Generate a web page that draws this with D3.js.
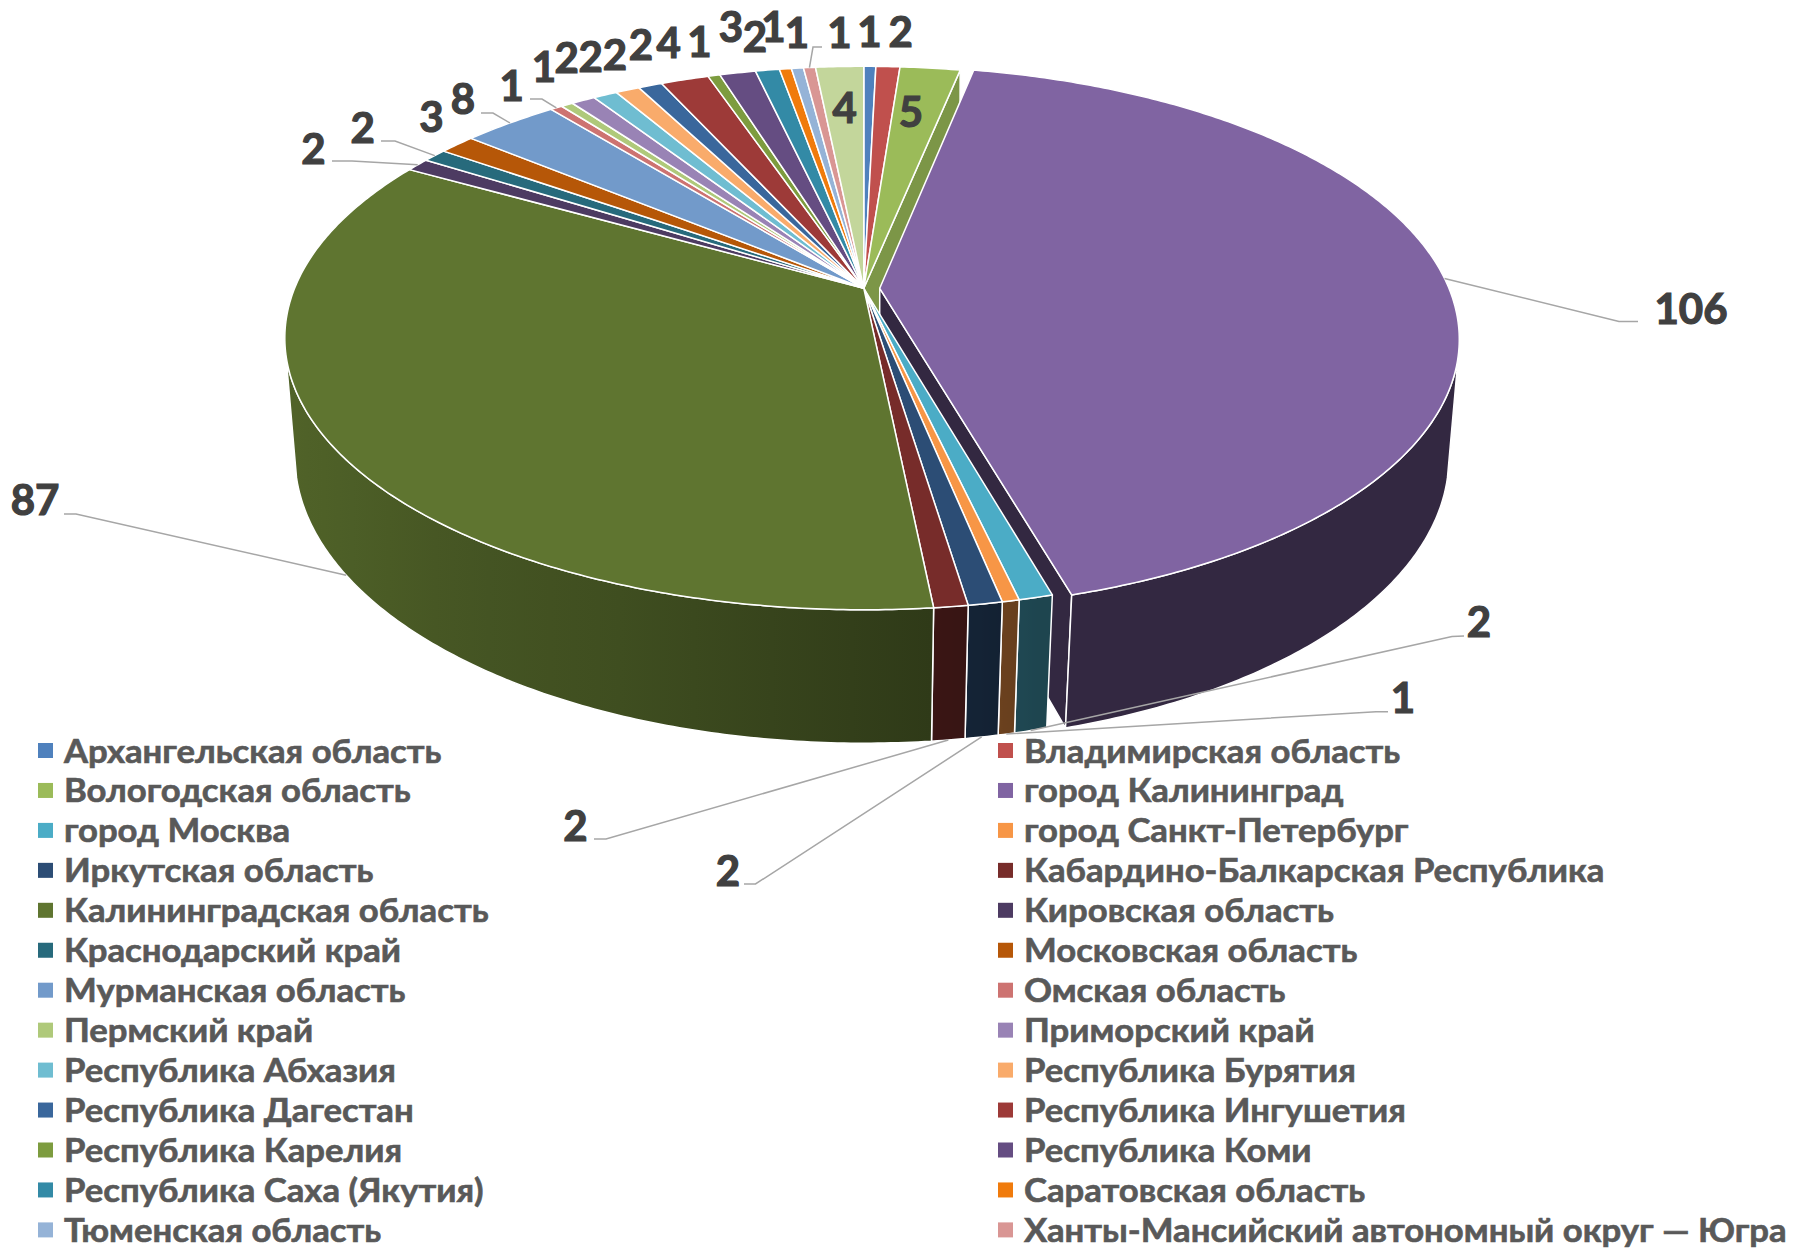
<!DOCTYPE html>
<html lang="ru">

<head>
	<title>Pie chart</title>
	<meta charset="utf-8">
	<script src="https://d3js.org/d3.v7.min.js"></script>
	<style>
		body { margin: 0; background: #fff; }
		text { font-family: Lato, "Open Sans", sans-serif; font-weight: 700; }
	</style>
</head>

<body>
	<div id="container"></div>
	<script>
		// Data, clockwise from 12 o'clock. The last slice has no legend row in the picture
		const categories = [
			"Архангельская область", "Владимирская область", "Вологодская область", "город Калининград",
			"город Москва", "город Санкт-Петербург", "Иркутская область", "Кабардино-Балкарская Республика",
			"Калининградская область", "Кировская область", "Краснодарский край", "Московская область",
			"Мурманская область", "Омская область", "Пермский край", "Приморский край",
			"Республика Абхазия", "Республика Бурятия", "Республика Дагестан", "Республика Ингушетия",
			"Республика Карелия", "Республика Коми", "Республика Саха (Якутия)", "Саратовская область",
			"Тюменская область", "Ханты-Мансийский автономный округ — Югра", ""
		];
		const values = [1, 2, 5, 106, 2, 1, 2, 2, 87, 2, 2, 3, 8, 1, 1, 2, 2, 2, 2, 4, 1, 3, 2, 1, 1, 1, 4];
		const colors = [
			"#4f81bd", "#c0504d", "#9bbb59", "#8064a2", "#4bacc6", "#f79646", "#2c4d75", "#772c2a",
			"#5f7530", "#4d3b62", "#276a7c", "#b65708", "#729aca", "#cd7371", "#afc97a", "#9983b5",
			"#6fbdd1", "#f9ab6b", "#3a679c", "#9d3a38", "#7d9c3f", "#654d82", "#338aa6", "#f07b0c",
			"#95b3d7", "#d99694", "#c3d69b"
		];

		// Hand placed data labels, same order as values
		const labelPos = [
			[869.5, 32], [900.8, 32], [911, 112], [1691, 309], [1479, 622], [1403, 698], [728, 871], [575.5, 826],
			[35, 500], [313.5, 149], [362.7, 128], [431.4, 117], [463, 99], [511.7, 86], [544, 67], [566.6, 58],
			[590.8, 57], [615, 55], [641, 45], [668.6, 43], [699.5, 42], [731, 27], [755, 37], [773.4, 27],
			[797, 33], [839.5, 33], [844.6, 108]
		];

		// Leader lines: slice index, plane the tip sits on, the two elbow points
		const leaders = [
			{ i: 3, plane: "top", pts: [[1619, 321.5], [1638, 321.5]] },
			{ i: 4, plane: "bottom", pts: [[1452, 636.5], [1464, 636]] },
			{ i: 5, plane: "bottom", pts: [[1376, 711.7], [1388, 711.7]] },
			{ i: 6, plane: "bottom", pts: [[755.5, 884], [744, 884]] },
			{ i: 7, plane: "bottom", pts: [[606, 839], [594, 839]] },
			{ i: 8, plane: "bottom", pts: [[76, 514], [64, 514]] },
			{ i: 9, plane: "top", pts: [[352, 161], [332, 161]] },
			{ i: 10, plane: "top", pts: [[395, 141], [381, 141]] },
			{ i: 12, plane: "top", pts: [[493, 113], [481, 113]] },
			{ i: 13, plane: "top", pts: [[542, 99], [530, 99]] },
			{ i: 25, plane: "top", pts: [[813, 47], [822, 47]] }
		];

		const width = 1794;
		const height = 1254;

		// Perspective planes of the 3D pie: top face and floor
		const planes = {
			top: { cx: 863.8, cy: 288.3, a: 262.6, b: 569.2, p: 0.183 },
			bottom: { cx: 863.8, cy: 407.3, a: 278.8, b: 560.6, p: 0.17 }
		};
		const explodedIndex = 3;
		const explode = 0.028;

		const svg = d3.select("#container")
			.append("svg")
			.attr("width", width)
			.attr("height", height)
			.attr("viewBox", `0 0 ${width} ${height}`);

		const defs = svg.append("defs");

		const slices = d3.pie().sort(null).value(d => d)(values);

		function project(theta, r, plane, du) {
			const u = Math.sin(theta) * r + du;
			const v = -Math.cos(theta) * r;
			const w = 1 - plane.p * v;
			return [plane.cx + plane.b * u / w, plane.cy + plane.a * v / w];
		}

		function anglesBetween(a0, a1) {
			const n = Math.max(2, Math.ceil((a1 - a0) / 0.01));
			return d3.range(n + 1).map(k => a0 + (a1 - a0) * k / n);
		}

		const polygon = d3.line().curve(d3.curveLinearClosed);
		const deg = a => a * 180 / Math.PI;
		const rad = a => a * Math.PI / 180;

		// Only this part of the rim faces the viewer
		const rimFrom = 104;
		const rimTo = 256;

		// Wall darkness by angle, brighter to the left like the Excel lighting
		const shade = d3.scaleLinear()
			.domain([165, 175, 200, 240, 265])
			.range([0.4, 0.5, 0.66, 0.82, 0.85])
			.clamp(true);
		const tint = (c, k) => d3.interpolateRgb("#000", c)(k);

		const shiftOf = i => i === explodedIndex ? explode : 0;

		function topPath(s) {
			const du = shiftOf(s.index);
			const pts = anglesBetween(s.startAngle, s.endAngle).map(t => project(t, 1, planes.top, du));
			pts.push(project(0, 0, planes.top, du));
			return polygon(pts);
		}

		const hasWall = s => deg(s.endAngle) > rimFrom && deg(s.startAngle) < rimTo;
		const wallFrom = s => rad(Math.max(deg(s.startAngle), rimFrom));
		const wallTo = s => rad(Math.min(deg(s.endAngle), rimTo));

		function wallPath(s) {
			const du = shiftOf(s.index);
			const angles = anglesBetween(wallFrom(s), wallTo(s));
			const upper = angles.map(t => project(t, 1, planes.top, du));
			const lower = angles.map(t => project(t, 1, planes.bottom, du)).reverse();
			return polygon(upper.concat(lower));
		}

		function facePath(theta, du) {
			return polygon([
				project(theta, 1, planes.top, du),
				project(0, 0, planes.top, du),
				project(0, 0, planes.bottom, du),
				project(theta, 1, planes.bottom, du)
			]);
		}

		function wallFill(s) {
			const i = s.index;
			const from = wallFrom(s);
			const to = wallTo(s);
			const steps = d3.range(13)
				.map(k => from + (to - from) * k / 12)
				.map(a => ({ a: deg(a), x: project(a, 1, planes.bottom, shiftOf(i))[0] }))
				.sort((p, q) => p.x - q.x);
			const x0 = steps[0].x;
			const x1 = steps[steps.length - 1].x;
			const grad = defs.append("linearGradient")
				.attr("id", `wall-${i}`)
				.attr("gradientUnits", "userSpaceOnUse")
				.attr("x1", x0).attr("x2", x1).attr("y1", 0).attr("y2", 0);
			steps.forEach(p => {
				grad.append("stop")
					.attr("offset", (p.x - x0) / (x1 - x0))
					.attr("stop-color", tint(colors[i], shade(p.a)));
			});
			return `url(#wall-${i})`;
		}

		const edge = sel => sel
			.attr("stroke", "#fff")
			.attr("stroke-width", 1.5)
			.attr("stroke-linejoin", "round");

		const pieGroup = svg.append("g");
		const exploded = slices[explodedIndex];
		const rest = slices.filter(d => d.index !== explodedIndex);

		// Cut faces showing through the gap of the pulled out slice
		pieGroup.append("path")
			.attr("d", facePath(exploded.startAngle, 0))
			.attr("fill", tint(colors[explodedIndex - 1], 0.8))
			.call(edge);
		pieGroup.append("path")
			.attr("d", facePath(exploded.endAngle, explode))
			.attr("fill", tint(colors[explodedIndex], 0.4))
			.call(edge);

		pieGroup.selectAll("path.wall")
			.data(rest.filter(hasWall))
			.join("path")
			.attr("class", "wall")
			.attr("d", wallPath)
			.attr("fill", wallFill)
			.call(edge);

		pieGroup.selectAll("path.top")
			.data(rest)
			.join("path")
			.attr("class", "top")
			.attr("d", topPath)
			.attr("fill", d => colors[d.index])
			.call(edge);

		pieGroup.append("path")
			.attr("d", wallPath(exploded))
			.attr("fill", wallFill(exploded))
			.call(edge);
		pieGroup.append("path")
			.attr("d", topPath(exploded))
			.attr("fill", colors[explodedIndex])
			.call(edge);

		// Leader lines
		const midAngle = s => (s.startAngle + s.endAngle) / 2;
		svg.append("g").selectAll("path")
			.data(leaders)
			.join("path")
			.attr("d", d => d3.line()([project(midAngle(slices[d.i]), 1, planes[d.plane], shiftOf(d.i))].concat(d.pts)))
			.attr("fill", "none")
			.attr("stroke", "#a6a6a6")
			.attr("stroke-width", 1.5);

		// Data labels
		svg.append("g").selectAll("text")
			.data(values)
			.join("text")
			.attr("x", (d, i) => labelPos[i][0])
			.attr("y", (d, i) => labelPos[i][1])
			.attr("text-anchor", "middle")
			.attr("dy", "0.36em")
			.attr("font-size", 42)
			.attr("fill", "#404040")
			.attr("stroke", "#404040")
			.attr("stroke-width", 1.2)
			.text(d => d);

		// Legend, two columns read left to right
		const legendColumns = [38, 998];
		const legendTop = 751;
		const legendStep = 39.95;
		const legendItems = categories.filter(d => d !== "");
		const legend = svg.append("g").selectAll("g")
			.data(legendItems)
			.join("g")
			.attr("transform", (d, i) => `translate(${legendColumns[i % 2]},${legendTop + Math.floor(i / 2) * legendStep})`);

		legend.append("rect")
			.attr("y", -8)
			.attr("width", 15)
			.attr("height", 15)
			.attr("fill", (d, i) => colors[i]);

		const legendText = legend.append("text")
			.attr("dy", "0.36em")
			.attr("font-size", 32)
			.attr("fill", "#595959")
			.attr("stroke", "#595959")
			.attr("stroke-width", 0.6)
			.text(d => d);

		// The longest row spans 763px in the picture, squeeze all rows by the same factor
		const longest = d3.max(legendText.nodes(), n => n.getComputedTextLength());
		legendText.attr("transform", `translate(26,0) scale(${763 / longest},1)`);
	</script>
</body>

</html>
